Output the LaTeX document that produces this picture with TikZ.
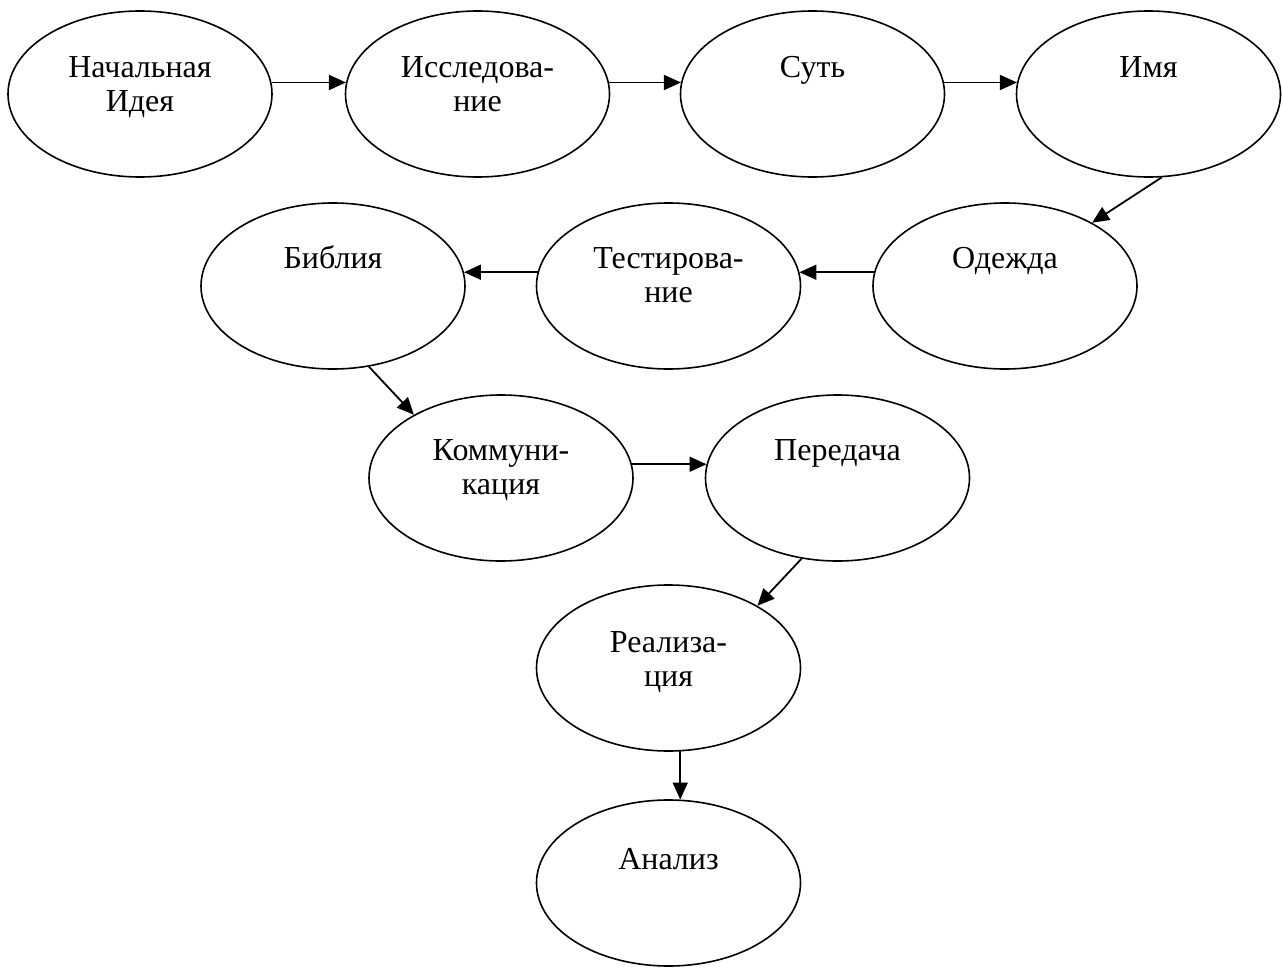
\documentclass[tikz,border=0pt]{standalone}
\usepackage{fontspec}
\setmainfont{Liberation Serif}
\usetikzlibrary{arrows.meta,shapes.geometric}
\begin{document}
\begin{tikzpicture}[x=1pt,y=-1pt,
  oval/.style={draw, ellipse, line width=1.6pt, minimum width=264pt, minimum height=166pt, inner sep=0pt},
  lbl/.style={anchor=base, align=center, inner sep=0pt, font=\fontsize{32}{34}\selectfont},
  conn/.style={line width=1.8pt, -{Triangle[length=17pt,width=15pt]}}]
\useasboundingbox (0,0) rectangle (1283,969);
% ellipses
\node[oval] (n1) at (140,94) {};
\node[oval] (n2) at (477.5,94) {};
\node[oval] (n3) at (812.5,94) {};
\node[oval] (n4) at (1148.5,94) {};
\node[oval] (n5) at (1005,286) {};
\node[oval] (n6) at (668.5,286) {};
\node[oval] (n7) at (333,286) {};
\node[oval] (n8) at (501,478) {};
\node[oval] (n9) at (837.5,478) {};
\node[oval] (n10) at (668.5,668) {};
\node[oval] (n11) at (668.5,883) {};
% labels (base anchor = baseline of last line)
\node[lbl] (t1) at (140,111) {Начальная\\Идея};
\node[lbl] (t2) at (477.5,111) {Исследова-\\ние};
\node[lbl] (t3) at (812.5,77) {Суть};
\node[lbl] (t4) at (1148.5,77) {Имя};
\node[lbl] (t5) at (1005,268) {Одежда};
\node[lbl] (t6) at (668.5,302) {Тестирова-\\ние};
\node[lbl] (t7) at (333,268) {Библия};
\node[lbl] (t8) at (501,494) {Коммуни-\\кация};
\node[lbl] (t9) at (837.5,460) {Передача};
\node[lbl] (t10) at (668.5,686) {Реализа-\\ция};
\node[lbl] (t11) at (668.5,869) {Анализ};
% connectors
\draw[conn] (n1.5) -- (n2.175);
\draw[conn] (n2.5) -- (n3.175);
\draw[conn] (n3.5) -- (n4.175);
\draw[conn] (n4.-81) -- (n5.36);
\draw[conn] (n5.174) -- (n6.6);
\draw[conn] (n6.174) -- (n7.6);
\draw[conn] (n7.-66) -- (n8.144);
\draw[conn] (n8.6) -- (n9.174);
\draw[conn] (n9.-114.6) -- (n10.35.6);
\draw[conn] (n10.-82.2) -- (n11.82.1);
\end{tikzpicture}
\end{document}
